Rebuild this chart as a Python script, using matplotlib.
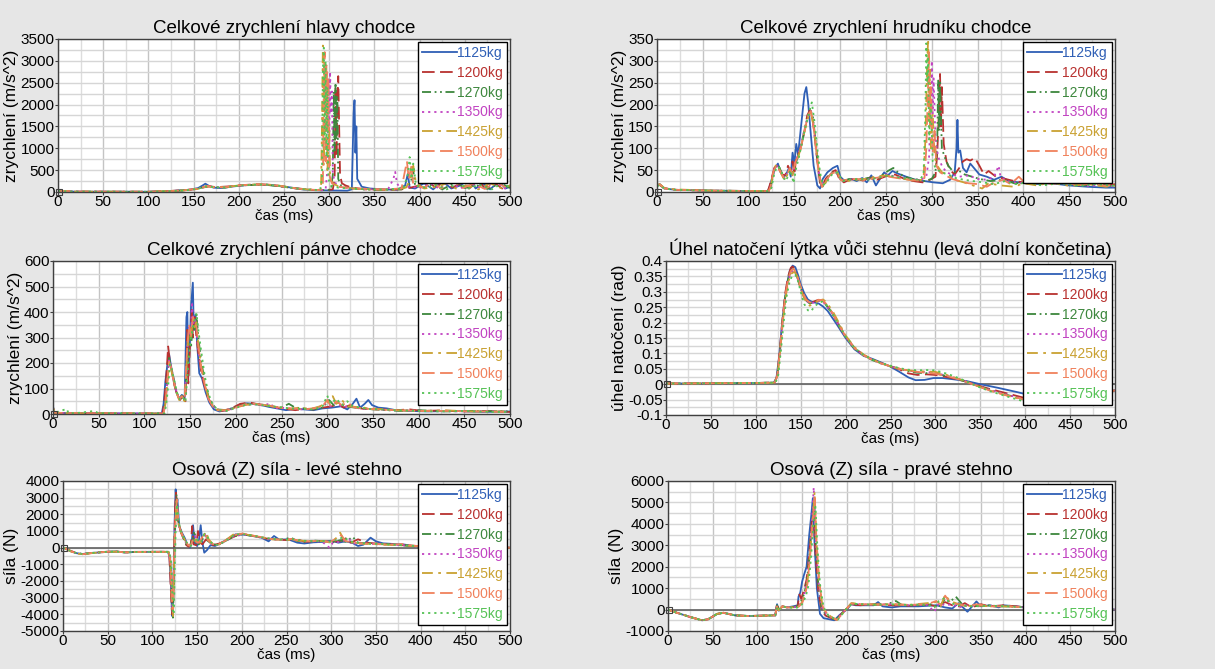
"""Crash simulation - pedestrian loads for several vehicle masses (6 panels)."""
import numpy as np
import matplotlib
matplotlib.use('Agg')
import matplotlib.pyplot as plt
from matplotlib.ticker import MultipleLocator

plt.rcParams['font.family'] = ['Liberation Sans', 'DejaVu Sans']
plt.rcParams['axes.unicode_minus'] = False

# ---------------------------------------------------------------- series setup
LABELS = ['1125kg', '1200kg', '1270kg', '1350kg', '1425kg', '1500kg', '1575kg']
COLORS = ['#2f5fb5', '#b8312f', '#3d873d', '#c143c1', '#c9a132', '#f0815c', '#55c255']
STYLES = ['-', (0, (7, 3)), (0, (5, 2, 1, 2, 1, 2)), (0, (1.2, 2.2)),
          (0, (6, 3, 1.5, 3)), (0, (7, 3)), (0, (1.2, 2.2))]

# ---------------------------------------------------------------- head (m/s^2)
head_1125 = [(0, 20), (20, 8), (100, 5), (125, 20), (135, 40), (145, 50), (155, 90), (160, 150), (163, 190),
             (167, 140), (172, 100), (180, 90), (195, 130), (210, 160), (225, 170), (240, 150), (255, 110),
             (270, 60), (285, 40), (300, 35), (320, 30), (325, 60), (327, 1800), (328, 2100), (329, 900),
             (330, 1500), (331, 300), (333, 230), (336, 120), (345, 80), (360, 60), (375, 50), (384, 150),
             (387, 420), (389, 100), (395, 80), (405, 200), (415, 60), (425, 250), (435, 80), (445, 150),
             (455, 300), (462, 80), (470, 200), (478, 60), (488, 250), (495, 80), (500, 120)]
head_1200 = [(0, 25), (20, 8), (100, 5), (125, 25), (140, 40), (155, 70), (162, 110), (168, 130), (175, 110),
             (190, 130), (205, 160), (220, 175), (235, 165), (250, 120), (265, 80), (280, 50), (295, 40),
             (304, 60), (306, 300), (307, 2400), (308, 800), (309, 2000), (310, 2650), (311, 1500), (312, 400),
             (314, 200), (318, 150), (325, 100), (340, 60), (360, 50), (380, 60), (390, 100), (400, 150),
             (410, 250), (418, 80), (428, 300), (436, 100), (446, 200), (455, 80), (465, 280), (472, 90),
             (482, 220), (492, 70), (500, 150)]
head_1270 = [(0, 20), (20, 6), (100, 5), (125, 20), (140, 35), (155, 80), (165, 130), (172, 110), (185, 100),
             (200, 150), (215, 160), (230, 165), (245, 130), (260, 90), (275, 60), (290, 40), (302, 50),
             (304, 400), (305, 2300), (306, 900), (307, 2500), (308, 1200), (309, 2200), (310, 300), (313, 150),
             (320, 100), (335, 60), (355, 50), (380, 60), (390, 200), (393, 500), (395, 150), (405, 100),
             (415, 180), (425, 60), (440, 220), (450, 90), (462, 160), (475, 70), (490, 200), (500, 90)]
head_1350 = [(0, 25), (20, 8), (100, 5), (125, 20), (140, 40), (155, 80), (165, 140), (172, 110), (185, 110),
             (200, 145), (215, 165), (230, 170), (245, 140), (260, 90), (275, 55), (290, 40), (296, 50),
             (298, 500), (299, 2600), (300, 1000), (301, 2750), (302, 1800), (303, 2300), (304, 400), (307, 200),
             (312, 120), (325, 80), (345, 60), (365, 60), (371, 300), (373, 460), (375, 200), (378, 100),
             (390, 120), (400, 90), (412, 200), (422, 70), (434, 250), (444, 80), (458, 180), (470, 70),
             (484, 240), (494, 80), (500, 120)]
head_1425 = [(0, 30), (20, 10), (100, 5), (125, 25), (140, 40), (155, 70), (165, 130), (172, 110), (185, 110),
             (200, 150), (215, 170), (230, 175), (245, 145), (260, 95), (275, 60), (288, 45), (291, 80),
             (292, 1500), (293, 3350), (294, 600), (295, 3000), (296, 1800), (297, 2800), (298, 500), (300, 1500),
             (301, 300), (304, 200), (310, 130), (320, 90), (340, 60), (370, 50), (385, 100), (390, 300),
             (393, 600), (396, 200), (405, 80), (420, 120), (432, 220), (440, 80), (452, 150), (465, 60),
             (478, 200), (490, 90), (500, 150)]
head_1500 = [(0, 25), (20, 8), (100, 5), (125, 20), (140, 40), (155, 80), (165, 140), (172, 110), (185, 110),
             (200, 150), (215, 170), (230, 170), (245, 140), (260, 90), (275, 55), (290, 45), (293, 100),
             (294, 2500), (295, 3200), (296, 700), (297, 2900), (298, 1500), (299, 2600), (300, 400), (303, 200),
             (310, 120), (330, 80), (360, 60), (380, 80), (384, 500), (386, 700), (388, 300), (391, 600),
             (393, 150), (405, 100), (414, 220), (424, 80), (436, 260), (448, 90), (460, 200), (472, 70),
             (486, 230), (496, 90), (500, 140)]
head_1575 = [(0, 25), (20, 8), (100, 5), (125, 20), (140, 35), (155, 75), (165, 135), (172, 110), (185, 105),
             (200, 145), (215, 165), (230, 170), (245, 140), (260, 90), (275, 55), (290, 45), (292, 300),
             (293, 2800), (294, 3300), (295, 1200), (296, 3000), (297, 800), (298, 2400), (299, 300), (302, 150),
             (310, 100), (330, 70), (360, 55), (382, 80), (387, 400), (389, 800), (391, 300), (393, 650),
             (396, 150), (408, 90), (418, 160), (430, 60), (442, 200), (454, 80), (466, 170), (480, 60),
             (492, 210), (500, 100)]

# ---------------------------------------------------------------- chest (m/s^2)
chest_1125 = [(0, 15), (3, 18), (8, 8), (20, 5), (60, 3), (121, 2), (123, 12), (126, 35), (129, 55), (132, 65),
              (135, 45), (138, 35), (141, 40), (144, 55), (146, 35), (148, 90), (150, 65), (152, 110), (154, 85),
              (156, 125), (158, 165), (161, 225), (163, 240), (165, 205), (168, 130), (171, 60), (175, 15),
              (178, 8), (181, 30), (186, 45), (192, 55), (197, 60), (200, 35), (205, 25), (212, 30), (218, 25),
              (224, 32), (229, 22), (234, 38), (239, 15), (244, 32), (248, 45), (252, 38), (257, 48), (263, 42),
              (272, 35), (282, 28), (292, 25), (302, 22), (312, 20), (320, 28), (325, 45), (327, 100), (328, 165),
              (329, 90), (331, 95), (334, 55), (338, 45), (342, 65), (346, 55), (352, 40), (360, 35), (368, 28),
              (376, 35), (384, 25), (395, 22), (410, 18), (430, 20), (450, 15), (470, 12), (490, 10), (500, 10)]
chest_1200 = [(0, 15), (3, 17), (8, 9), (20, 5), (60, 3), (121, 2), (123, 15), (125, 30), (128, 55), (131, 62),
              (134, 50), (137, 40), (140, 38), (143, 60), (146, 45), (148, 70), (150, 40), (152, 80), (155, 90),
              (158, 110), (161, 140), (164, 175), (167, 188), (169, 180), (172, 130), (175, 70), (178, 20),
              (180, 10), (184, 30), (190, 45), (195, 50), (199, 30), (204, 22), (210, 28), (218, 30), (225, 26),
              (232, 33), (240, 28), (250, 36), (260, 40), (270, 30), (280, 25), (290, 22), (298, 28), (304, 35),
              (306, 90), (308, 200), (309, 270), (310, 150), (311, 240), (313, 110), (316, 70), (320, 50),
              (325, 40), (330, 55), (334, 70), (338, 75), (342, 72), (347, 78), (352, 60), (357, 40), (362, 48),
              (370, 35), (380, 30), (390, 25), (400, 22), (415, 28), (430, 18), (445, 25), (460, 15), (475, 22),
              (490, 15), (500, 18)]
chest_1270 = [(0, 14), (3, 16), (8, 8), (20, 5), (60, 3), (122, 2), (124, 10), (127, 40), (130, 60), (133, 58),
              (136, 45), (139, 30), (142, 40), (145, 55), (148, 40), (150, 60), (153, 75), (156, 95), (159, 120),
              (162, 150), (165, 175), (168, 185), (170, 175), (173, 120), (176, 60), (179, 15), (182, 12),
              (187, 35), (193, 48), (198, 40), (203, 25), (210, 30), (220, 27), (230, 32), (240, 30), (252, 48),
              (258, 55), (263, 45), (270, 35), (282, 28), (292, 25), (300, 30), (304, 45), (306, 120), (307, 255),
              (308, 140), (309, 250), (311, 100), (314, 80), (318, 60), (324, 45), (330, 48), (336, 40), (344, 35),
              (352, 30), (364, 25), (378, 28), (390, 20), (405, 22), (425, 18), (445, 20), (465, 15), (485, 18),
              (500, 12)]
chest_1350 = [(0, 15), (3, 17), (8, 8), (20, 5), (60, 3), (122, 2), (124, 12), (127, 45), (130, 62), (133, 55),
              (136, 42), (139, 32), (142, 42), (145, 55), (148, 42), (151, 70), (154, 85), (157, 105), (160, 135),
              (163, 160), (166, 180), (168, 185), (171, 150), (174, 90), (177, 40), (180, 12), (184, 25),
              (190, 42), (196, 45), (201, 25), (208, 28), (218, 30), (228, 28), (238, 32), (250, 40), (262, 35),
              (275, 30), (288, 28), (294, 35), (297, 80), (299, 200), (300, 300), (301, 180), (302, 260),
              (304, 120), (307, 80), (311, 60), (316, 45), (322, 40), (330, 35), (340, 38), (350, 30), (360, 28),
              (368, 35), (373, 60), (375, 35), (382, 25), (395, 20), (410, 25), (430, 18), (450, 20), (470, 14),
              (490, 16), (500, 12)]
chest_1425 = [(0, 16), (3, 18), (8, 9), (20, 6), (60, 3), (122, 2), (124, 12), (127, 45), (130, 63), (133, 55),
              (136, 40), (139, 28), (142, 38), (145, 52), (148, 38), (151, 65), (154, 80), (157, 100), (160, 130),
              (163, 155), (166, 178), (168, 183), (171, 150), (174, 95), (177, 40), (180, 12), (184, 22),
              (190, 40), (196, 48), (201, 28), (208, 25), (218, 28), (228, 30), (238, 35), (250, 38), (262, 33),
              (275, 28), (285, 25), (291, 30), (293, 120), (295, 300), (296, 350), (297, 160), (298, 280),
              (299, 100), (301, 180), (303, 80), (306, 60), (311, 45), (318, 40), (325, 28), (335, 22), (345, 15),
              (355, 8), (362, 20), (375, 15), (390, 12), (400, 20), (415, 15), (430, 22), (450, 14), (470, 18),
              (490, 12), (500, 15)]
chest_1500 = [(0, 15), (3, 17), (8, 8), (20, 5), (60, 3), (122, 2), (124, 12), (127, 45), (130, 60), (133, 52),
              (136, 42), (139, 30), (142, 40), (145, 55), (148, 40), (151, 68), (154, 82), (157, 100), (160, 130),
              (163, 158), (166, 180), (168, 185), (171, 150), (174, 92), (177, 40), (180, 12), (184, 25),
              (190, 42), (196, 46), (201, 26), (208, 28), (218, 30), (228, 27), (238, 32), (250, 36), (262, 32),
              (275, 28), (286, 26), (292, 32), (294, 100), (296, 250), (297, 320), (298, 150), (299, 240),
              (301, 90), (303, 140), (305, 60), (309, 45), (315, 38), (322, 30), (330, 25), (340, 20), (350, 18),
              (360, 12), (368, 22), (378, 28), (386, 18), (395, 35), (402, 20), (415, 28), (430, 18), (445, 24),
              (460, 15), (475, 20), (490, 14), (500, 18)]
chest_1575 = [(0, 14), (3, 16), (8, 8), (20, 5), (60, 3), (123, 2), (125, 10), (128, 42), (131, 58), (134, 55),
              (137, 40), (140, 25), (143, 35), (146, 50), (149, 20), (152, 55), (155, 80), (158, 110), (161, 140),
              (164, 165), (167, 190), (169, 205), (172, 160), (175, 100), (178, 45), (181, 15), (185, 22),
              (191, 40), (197, 45), (202, 25), (210, 28), (220, 30), (230, 28), (240, 32), (252, 38), (262, 34),
              (275, 30), (287, 28), (291, 40), (293, 180), (294, 340), (295, 250), (296, 310), (297, 120),
              (299, 200), (301, 70), (304, 55), (310, 45), (318, 40), (326, 32), (335, 28), (345, 25), (356, 22),
              (368, 18), (380, 25), (392, 18), (405, 22), (420, 15), (440, 20), (460, 14), (480, 18), (500, 14)]

# ---------------------------------------------------------------- pelvis (m/s^2)
pelvis_1125 = [(0, 30), (1.5, 5), (20, 3), (100, 2), (119, 2), (121, 40), (123, 130), (125, 190), (127, 235),
               (129, 190), (132, 130), (135, 85), (138, 60), (141, 75), (144, 60), (146, 380), (147, 400),
               (148, 150), (150, 300), (151, 420), (153, 515), (154, 330), (156, 390), (158, 260), (160, 160),
               (163, 140), (167, 85), (171, 45), (176, 18), (182, 10), (190, 15), (198, 25), (205, 38), (212, 42),
               (220, 40), (228, 35), (236, 28), (245, 22), (255, 15), (265, 20), (275, 18), (285, 15), (295, 22),
               (305, 25), (315, 30), (322, 18), (328, 40), (332, 60), (336, 25), (341, 40), (345, 55), (349, 35),
               (356, 25), (365, 22), (375, 15), (390, 12), (410, 10), (440, 12), (470, 8), (500, 10)]
pelvis_1200 = [(0, 25), (1.5, 5), (20, 3), (100, 2), (120, 2), (122, 60), (124, 150), (126, 265), (128, 200),
               (130, 170), (133, 110), (136, 75), (139, 55), (142, 70), (145, 50), (147, 330), (148, 120),
               (150, 280), (152, 420), (153, 300), (155, 380), (157, 300), (159, 240), (162, 170), (165, 120),
               (169, 70), (173, 40), (178, 20), (185, 12), (195, 22), (205, 40), (215, 45), (225, 38), (235, 35),
               (245, 25), (255, 20), (265, 15), (275, 20), (285, 18), (295, 25), (305, 30), (312, 40), (318, 25),
               (325, 35), (332, 25), (340, 20), (350, 22), (360, 18), (375, 15), (390, 18), (405, 12), (425, 14),
               (450, 10), (475, 12), (500, 8)]
pelvis_1270 = [(0, 20), (2, 5), (20, 3), (100, 2), (121, 2), (123, 50), (125, 140), (127, 220), (129, 190),
               (132, 140), (135, 90), (138, 60), (141, 72), (144, 55), (147, 200), (149, 310), (151, 260),
               (153, 360), (155, 330), (157, 390), (159, 300), (162, 210), (166, 130), (170, 70), (175, 35),
               (180, 18), (190, 15), (200, 28), (210, 38), (220, 40), (230, 35), (240, 30), (250, 25), (258, 40),
               (265, 25), (275, 22), (285, 18), (295, 25), (302, 55), (307, 35), (313, 45), (320, 30), (330, 25),
               (340, 22), (350, 18), (365, 15), (380, 12), (400, 15), (430, 10), (460, 12), (500, 10)]
pelvis_1350 = [(0, 22), (2, 5), (20, 3), (100, 2), (121, 2), (123, 45), (125, 130), (127, 210), (129, 185),
               (132, 135), (135, 88), (138, 58), (141, 70), (144, 52), (147, 260), (149, 340), (151, 300),
               (152, 440), (154, 350), (156, 370), (158, 280), (161, 200), (165, 130), (169, 75), (174, 35),
               (180, 15), (190, 12), (200, 25), (210, 35), (220, 38), (230, 33), (238, 42), (242, 22), (250, 25),
               (262, 20), (275, 18), (288, 22), (298, 40), (304, 30), (310, 45), (316, 28), (325, 30), (335, 22),
               (345, 20), (358, 18), (372, 15), (390, 14), (410, 12), (440, 10), (470, 12), (500, 8)]
pelvis_1425 = [(0, 25), (2, 5), (20, 3), (100, 2), (121, 2), (123, 40), (125, 120), (127, 200), (129, 180),
               (132, 130), (135, 85), (138, 55), (141, 68), (144, 50), (147, 250), (149, 330), (151, 300),
               (153, 370), (155, 340), (157, 360), (159, 270), (162, 190), (166, 120), (170, 65), (175, 30),
               (180, 15), (190, 15), (200, 25), (210, 35), (220, 40), (230, 36), (240, 30), (250, 25), (260, 20),
               (270, 25), (282, 20), (292, 30), (300, 45), (306, 70), (310, 40), (316, 55), (322, 30), (330, 28),
               (340, 25), (350, 20), (365, 18), (380, 14), (400, 12), (430, 14), (460, 10), (500, 10)]
pelvis_1500 = [(0, 22), (2, 5), (20, 3), (100, 2), (121, 2), (123, 45), (125, 125), (127, 205), (129, 185),
               (132, 130), (135, 85), (138, 58), (141, 70), (144, 55), (147, 270), (149, 350), (151, 310),
               (153, 380), (155, 360), (157, 340), (159, 270), (162, 185), (166, 115), (170, 60), (175, 28),
               (180, 15), (190, 14), (200, 25), (210, 38), (220, 40), (230, 35), (240, 30), (250, 24), (262, 22),
               (275, 18), (288, 24), (296, 35), (300, 55), (304, 30), (310, 50), (316, 35), (322, 45), (330, 25),
               (340, 22), (352, 18), (368, 16), (385, 14), (405, 12), (435, 12), (465, 10), (500, 8)]
pelvis_1575 = [(0, 20), (2, 5), (15, 20), (17, 3), (30, 5), (45, 12), (50, 3), (100, 2), (122, 2), (124, 40),
               (126, 110), (128, 195), (130, 175), (133, 125), (136, 80), (139, 55), (142, 65), (145, 48),
               (148, 200), (151, 300), (153, 340), (155, 370), (157, 395), (159, 330), (162, 250), (166, 150),
               (170, 80), (175, 35), (181, 15), (190, 12), (200, 24), (210, 35), (220, 38), (230, 34), (240, 30),
               (250, 26), (260, 22), (272, 20), (285, 18), (295, 30), (300, 72), (304, 40), (310, 60), (316, 35),
               (322, 50), (328, 30), (336, 25), (346, 20), (360, 18), (375, 15), (395, 12), (420, 10), (450, 12),
               (480, 8), (500, 8)]

# ---------------------------------------------------------------- knee angle (rad)
knee_1125 = [(0, 0.002), (50, 0.003), (100, 0.004), (120, 0.005), (123, 0.02), (126, 0.09), (129, 0.19),
             (132, 0.27), (135, 0.33), (138, 0.37), (141, 0.385), (144, 0.38), (147, 0.355), (150, 0.325),
             (154, 0.295), (158, 0.275), (162, 0.268), (166, 0.265), (170, 0.262), (175, 0.252), (180, 0.238),
             (190, 0.195), (200, 0.15), (210, 0.113), (220, 0.092), (230, 0.082), (240, 0.07), (250, 0.057),
             (260, 0.04), (270, 0.022), (278, 0.013), (288, 0.014), (298, 0.02), (308, 0.02), (320, 0.016),
             (335, 0.01), (350, 0.0), (370, -0.012), (390, -0.025), (400, -0.032), (430, -0.045),
             (460, -0.04), (500, -0.02)]
knee_1200 = [(0, 0.002), (50, 0.003), (100, 0.004), (121, 0.005), (124, 0.03), (127, 0.12), (130, 0.22),
             (133, 0.3), (136, 0.35), (139, 0.378), (141, 0.382), (144, 0.37), (147, 0.34), (150, 0.31),
             (154, 0.285), (158, 0.268), (162, 0.265), (166, 0.27), (170, 0.274), (174, 0.272), (178, 0.26),
             (185, 0.232), (192, 0.195), (200, 0.155), (210, 0.118), (220, 0.095), (230, 0.08), (240, 0.068),
             (250, 0.058), (260, 0.048), (270, 0.035), (280, 0.03), (290, 0.032), (300, 0.03), (315, 0.022),
             (330, 0.012), (345, -0.002), (360, -0.015), (380, -0.03), (400, -0.045), (430, -0.055),
             (460, -0.045), (500, -0.02)]
knee_1270 = [(0, 0.002), (50, 0.003), (100, 0.004), (121, 0.005), (124, 0.03), (127, 0.11), (130, 0.21),
             (133, 0.29), (136, 0.34), (139, 0.368), (142, 0.375), (145, 0.36), (148, 0.33), (152, 0.295),
             (156, 0.272), (160, 0.262), (165, 0.266), (170, 0.272), (174, 0.27), (178, 0.258), (185, 0.23),
             (192, 0.192), (200, 0.152), (210, 0.115), (220, 0.093), (230, 0.078), (240, 0.067), (250, 0.058),
             (260, 0.05), (270, 0.042), (280, 0.037), (290, 0.036), (300, 0.035), (315, 0.025), (330, 0.012),
             (345, -0.003), (360, -0.018), (380, -0.035), (400, -0.05), (430, -0.057), (460, -0.045),
             (500, -0.02)]
knee_1350 = [(0, 0.002), (50, 0.003), (100, 0.004), (121, 0.005), (124, 0.025), (127, 0.1), (130, 0.2),
             (133, 0.28), (136, 0.335), (139, 0.362), (142, 0.37), (145, 0.358), (148, 0.33), (152, 0.295),
             (156, 0.272), (160, 0.262), (165, 0.265), (170, 0.27), (174, 0.27), (178, 0.258), (185, 0.23),
             (192, 0.193), (200, 0.153), (210, 0.116), (220, 0.094), (230, 0.079), (240, 0.067), (250, 0.058),
             (260, 0.05), (270, 0.044), (280, 0.04), (290, 0.04), (300, 0.036), (315, 0.026), (330, 0.013),
             (345, -0.003), (360, -0.018), (380, -0.034), (400, -0.05), (430, -0.056), (460, -0.045),
             (500, -0.02)]
knee_1425 = [(0, 0.002), (50, 0.003), (100, 0.004), (121, 0.005), (124, 0.025), (127, 0.1), (130, 0.2),
             (133, 0.28), (136, 0.33), (139, 0.358), (143, 0.365), (146, 0.352), (149, 0.32), (153, 0.285),
             (157, 0.262), (160, 0.255), (165, 0.262), (170, 0.272), (175, 0.275), (179, 0.265), (186, 0.235),
             (193, 0.197), (200, 0.158), (210, 0.12), (220, 0.096), (230, 0.08), (240, 0.068), (250, 0.058),
             (260, 0.05), (270, 0.045), (280, 0.042), (290, 0.041), (300, 0.04), (315, 0.028), (330, 0.013),
             (345, -0.004), (360, -0.02), (380, -0.037), (400, -0.052), (430, -0.058), (460, -0.045),
             (500, -0.02)]
knee_1500 = [(0, 0.002), (50, 0.003), (100, 0.004), (121, 0.005), (124, 0.028), (127, 0.11), (130, 0.21),
             (133, 0.29), (136, 0.34), (139, 0.368), (142, 0.375), (145, 0.362), (148, 0.335), (152, 0.3),
             (156, 0.275), (160, 0.265), (165, 0.268), (170, 0.274), (174, 0.273), (178, 0.262), (185, 0.233),
             (192, 0.195), (200, 0.155), (210, 0.117), (220, 0.094), (230, 0.079), (240, 0.067), (250, 0.058),
             (260, 0.05), (270, 0.044), (280, 0.04), (290, 0.037), (300, 0.034), (315, 0.025), (330, 0.012),
             (345, -0.004), (360, -0.02), (380, -0.037), (400, -0.05), (430, -0.055), (460, -0.045),
             (500, -0.02)]
knee_1575 = [(0, 0.002), (50, 0.003), (100, 0.004), (122, 0.005), (125, 0.03), (128, 0.11), (131, 0.2),
             (134, 0.28), (137, 0.325), (140, 0.35), (144, 0.355), (147, 0.335), (150, 0.3), (154, 0.26),
             (158, 0.24), (161, 0.236), (165, 0.25), (170, 0.265), (174, 0.268), (178, 0.26), (185, 0.232),
             (192, 0.195), (200, 0.155), (210, 0.118), (220, 0.095), (230, 0.08), (240, 0.068), (250, 0.06),
             (260, 0.052), (270, 0.047), (280, 0.045), (290, 0.046), (300, 0.045), (315, 0.032), (330, 0.015),
             (345, -0.005), (360, -0.022), (380, -0.04), (400, -0.057), (430, -0.06), (460, -0.045),
             (500, -0.02)]

# ---------------------------------------------------------------- left femur force (N)
lfemur_1125 = [(0, 0), (3, -60), (8, -200), (15, -330), (22, -380), (30, -320), (40, -290), (50, -250),
               (60, -230), (70, -290), (80, -260), (100, -250), (117, -250), (119, -450), (121, -2600),
               (122, -4100), (123, -3400), (124, -600), (125, 1800), (126, 3500), (127, 2600), (128, 2900),
               (130, 1300), (133, 900), (136, 600), (139, 200), (142, 0), (144, 300), (145.5, 1350), (147, 300),
               (150, 100), (152, 400), (154, 1350), (156, 300), (158, -300), (161, -150), (165, 150), (170, 100),
               (176, 250), (185, 550), (193, 800), (203, 780), (213, 700), (222, 600), (230, 380), (236, 700),
               (242, 480), (252, 500), (262, 300), (270, 250), (280, 320), (292, 350), (300, 420), (308, 300),
               (316, 380), (324, 280), (330, 100), (336, 180), (344, 600), (350, 380), (358, 260), (370, 220),
               (380, 200), (390, 120), (400, 80), (450, 30), (500, 0)]
lfemur_1200 = [(0, 0), (3, -50), (8, -180), (15, -320), (22, -390), (30, -330), (40, -280), (50, -240),
               (60, -240), (70, -280), (80, -250), (100, -250), (117, -250), (119, -500), (121, -3000),
               (122, -4000), (123.5, -2500), (124.5, 300), (125.5, 2500), (126.5, 3300), (127.5, 2000),
               (129, 1500), (132, 900), (135, 500), (138, 150), (141, 50), (143, 200), (144.5, 1300), (146, 200),
               (149, 150), (151, 1000), (153, 300), (156, 200), (160, 500), (164, 300), (168, 150), (175, 250),
               (185, 500), (195, 750), (205, 780), (215, 680), (225, 560), (240, 500), (250, 450), (260, 550),
               (270, 350), (280, 380), (290, 400), (300, 350), (310, 400), (318, 600), (322, 300), (330, 500),
               (340, 300), (350, 250), (365, 200), (380, 150), (395, 80), (450, 30), (500, 0)]
lfemur_1270 = [(0, 0), (3, -50), (8, -190), (15, -330), (22, -380), (30, -330), (40, -290), (50, -245),
               (60, -235), (70, -285), (80, -255), (100, -250), (118, -250), (120, -600), (122, -3200),
               (123, -4200), (124, -2200), (125, 500), (126, 2200), (127, 3200), (128, 1800), (130, 1300),
               (133, 800), (136, 400), (139, 100), (142, 150), (145, 500), (147, 1000), (149, 300), (152, 200),
               (156, 500), (159, 900), (162, 400), (166, 250), (172, 150), (180, 350), (190, 650), (200, 800),
               (210, 720), (220, 620), (232, 520), (245, 480), (255, 600), (262, 400), (272, 350), (282, 420),
               (292, 380), (300, 300), (310, 450), (316, 350), (324, 650), (330, 300), (340, 250), (355, 220),
               (370, 180), (385, 120), (400, 80), (450, 30), (500, 0)]
lfemur_1350 = [(0, 0), (3, -55), (8, -200), (15, -340), (22, -390), (30, -330), (40, -285), (50, -245),
               (60, -240), (70, -285), (80, -255), (100, -250), (118, -250), (120, -700), (122, -3500),
               (123, -4000), (124, -1800), (125, 600), (126.5, 2500), (127.5, 3000), (128.5, 1700), (130, 1200),
               (133, 800), (136, 450), (139, 150), (142, 100), (145, 400), (148, 700), (150, 300), (153, 250),
               (157, 600), (160, 800), (163, 350), (167, 200), (173, 150), (182, 400), (192, 700), (202, 780),
               (212, 700), (222, 600), (234, 500), (246, 450), (258, 480), (268, 380), (280, 400), (290, 350),
               (298, 0), (302, 300), (310, 350), (320, 500), (326, 250), (335, 250), (350, 220), (365, 180),
               (380, 150), (395, 80), (450, 30), (500, 0)]
lfemur_1425 = [(0, 0), (3, -60), (8, -210), (15, -350), (22, -400), (30, -340), (40, -290), (50, -250),
               (60, -240), (70, -290), (80, -260), (100, -250), (118, -250), (120, -800), (122, -3600),
               (123, -4100), (124, -1500), (125, 800), (127, 2800), (128, 1800), (130, 1200), (133, 800),
               (136, 500), (139, 200), (142, 100), (145, 300), (148, 500), (151, 350), (154, 300), (157, 700),
               (160, 950), (163, 500), (167, 250), (173, 150), (182, 450), (192, 850), (202, 820), (212, 720),
               (222, 620), (234, 500), (246, 480), (256, 450), (266, 420), (278, 380), (290, 400), (300, 300),
               (306, 600), (310, 900), (314, 500), (320, 350), (330, 250), (345, 220), (360, 180), (375, 150),
               (390, 100), (400, 80), (450, 30), (500, 0)]
lfemur_1500 = [(0, 0), (3, -55), (8, -200), (15, -340), (22, -395), (30, -335), (40, -285), (50, -245),
               (60, -240), (70, -285), (80, -255), (100, -250), (118, -250), (120, -700), (122, -3300),
               (123, -3900), (124, -1600), (125, 700), (126.5, 2400), (127.5, 2900), (129, 1600), (131, 1100),
               (134, 700), (137, 400), (140, 150), (143, 150), (146, 600), (149, 350), (152, 300), (156, 650),
               (159, 850), (162, 450), (166, 250), (172, 150), (181, 400), (191, 750), (201, 850), (211, 740),
               (221, 640), (233, 520), (245, 470), (255, 520), (265, 420), (276, 380), (288, 420), (298, 330),
               (306, 550), (311, 750), (316, 400), (324, 300), (335, 250), (350, 220), (365, 180), (380, 220),
               (388, 150), (400, 80), (450, 30), (500, 0)]
lfemur_1575 = [(0, 0), (3, -50), (8, -190), (15, -330), (22, -385), (30, -330), (40, -285), (50, -245),
               (60, -240), (70, -285), (80, -255), (100, -250), (119, -250), (121, -900), (123, -3800),
               (124, -4000), (125, -1300), (126, 1000), (127.5, 2600), (129, 1800), (131, 1100), (134, 700),
               (137, 400), (140, 200), (143, 100), (146, 350), (149, 600), (152, 300), (155, 400), (158, 800),
               (161, 700), (164, 400), (168, 200), (174, 150), (183, 450), (193, 800), (203, 800), (213, 720),
               (223, 620), (235, 520), (247, 470), (257, 500), (268, 420), (280, 390), (292, 400), (300, 350),
               (308, 500), (314, 650), (320, 400), (328, 300), (340, 250), (355, 220), (370, 180), (385, 130),
               (400, 80), (450, 30), (500, 0)]

# ---------------------------------------------------------------- right femur force (N)
rfemur_1125 = [(0, 0), (10, -150), (25, -350), (38, -500), (45, -450), (55, -200), (62, -150), (75, -270),
               (90, -300), (110, -280), (120, -270), (122, 250), (124, -50), (128, 150), (133, 100), (140, 150),
               (145, 200), (146, 600), (148, 800), (150, 1300), (152, 1600), (155, 2000), (158, 3500),
               (160.5, 4500), (162, 5200), (164, 3000), (166.5, 1000), (170, -200), (174, -400), (180, -450),
               (186, -500), (192, -250), (200, 0), (205, 250), (210, 200), (220, 200), (230, 200), (235, 350),
               (240, 150), (250, 100), (260, 150), (280, 150), (300, 200), (310, 100), (318, 50), (325, 300),
               (335, -100), (345, 380), (350, 150), (360, 200), (370, 100), (375, 200), (390, 150), (400, 100),
               (450, 50), (500, 0)]
rfemur_1200 = [(0, 0), (10, -150), (25, -350), (38, -500), (45, -450), (55, -200), (62, -150), (75, -270),
               (90, -300), (110, -280), (120, -270), (122, 300), (124, -30), (128, 150), (133, 100), (140, 120),
               (145, 150), (147, 700), (149, 500), (152, 900), (155, 1400), (158, 2600), (161, 4200),
               (163, 4600), (165, 2600), (168, 900), (172, -100), (177, -300), (183, -400), (188, -480),
               (194, -200), (200, 50), (205, 250), (215, 200), (230, 250), (250, 200), (270, 180), (290, 250),
               (300, 150), (310, 350), (318, 200), (325, 150), (332, 300), (340, 100), (350, 250), (360, 150),
               (375, 200), (390, 150), (400, 100), (450, 50), (500, 0)]
rfemur_1270 = [(0, 0), (10, -150), (25, -350), (38, -500), (45, -450), (55, -200), (62, -150), (75, -270),
               (90, -300), (110, -280), (120, -270), (122, 200), (124, -30), (128, 150), (133, 100), (140, 120),
               (146, 150), (149, 400), (152, 700), (155, 1200), (158, 2400), (161, 4000), (163.5, 5000),
               (165.5, 3000), (168, 1200), (172, 0), (177, -250), (183, -400), (188, -490), (194, -200),
               (200, 50), (205, 280), (215, 250), (230, 220), (245, 250), (255, 400), (262, 200), (280, 200),
               (295, 250), (303, 100), (310, 500), (315, 350), (322, 600), (330, 200), (340, 150), (355, 200),
               (375, 150), (390, 120), (400, 100), (450, 50), (500, 0)]
rfemur_1350 = [(0, 0), (10, -150), (25, -350), (38, -500), (45, -450), (55, -200), (62, -150), (75, -270),
               (90, -300), (110, -280), (120, -270), (122, 150), (124, -30), (128, 150), (133, 100), (140, 100),
               (146, 150), (150, 400), (153, 800), (156, 1400), (159, 2800), (161.5, 4500), (163, 5700),
               (165, 3500), (168, 1400), (172, 100), (177, -200), (183, -380), (188, -480), (194, -200),
               (200, 50), (205, 280), (215, 250), (230, 230), (250, 250), (270, 200), (290, 220), (298, -100),
               (303, 300), (310, 200), (318, 250), (325, 100), (335, 200), (345, 150), (360, 180), (380, 150),
               (400, 100), (450, 50), (500, 0)]
rfemur_1425 = [(0, 0), (10, -150), (25, -350), (38, -500), (45, -450), (55, -200), (62, -150), (75, -270),
               (90, -300), (110, -280), (120, -270), (122, 150), (124, -30), (128, 150), (133, 100), (140, 100),
               (146, 120), (150, 350), (153, 700), (156, 1300), (159, 2600), (162, 4300), (164, 5500),
               (166, 3200), (169, 1300), (173, 100), (178, -200), (184, -380), (189, -480), (195, -200),
               (200, 50), (205, 300), (215, 260), (230, 240), (250, 250), (270, 220), (290, 300), (300, 350),
               (305, 150), (310, 700), (315, 400), (322, 300), (332, 150), (345, 200), (360, 150), (380, 150),
               (400, 100), (450, 50), (500, 0)]
rfemur_1500 = [(0, 0), (10, -150), (25, -350), (38, -500), (45, -450), (55, -200), (62, -150), (75, -270),
               (90, -300), (110, -280), (120, -270), (122, 150), (124, -30), (128, 150), (133, 100), (140, 100),
               (146, 130), (150, 300), (153, 650), (156, 1200), (159, 2500), (162, 4200), (164, 5200),
               (166, 3300), (169, 1300), (173, 150), (178, -200), (184, -380), (189, -480), (195, -200),
               (200, 50), (205, 280), (215, 250), (230, 230), (250, 240), (270, 220), (290, 250), (300, 400),
               (306, 200), (310, 650), (316, 300), (325, 250), (335, 150), (345, 250), (360, 150), (380, 150),
               (400, 100), (450, 50), (500, 0)]
rfemur_1575 = [(0, 0), (10, -150), (25, -350), (38, -500), (45, -450), (55, -200), (62, -150), (75, -270),
               (90, -300), (110, -280), (120, -270), (122, 100), (124, -30), (128, 150), (133, 100), (140, 80),
               (146, 100), (150, 250), (154, 600), (157, 1100), (160, 2400), (162.5, 4000), (165, 4800),
               (167, 3000), (170, 1200), (174, 100), (179, -250), (185, -400), (190, -470), (196, -150),
               (201, 100), (206, 280), (215, 250), (230, 230), (250, 240), (270, 220), (290, 240), (298, 100),
               (303, 400), (310, 550), (316, 300), (325, 200), (340, 150), (360, 180), (380, 150), (400, 100),
               (450, 50), (500, 0)]

HEAD = [head_1125, head_1200, head_1270, head_1350, head_1425, head_1500, head_1575]
CHEST = [chest_1125, chest_1200, chest_1270, chest_1350, chest_1425, chest_1500, chest_1575]
PELVIS = [pelvis_1125, pelvis_1200, pelvis_1270, pelvis_1350, pelvis_1425, pelvis_1500, pelvis_1575]
KNEE = [knee_1125, knee_1200, knee_1270, knee_1350, knee_1425, knee_1500, knee_1575]
LFEMUR = [lfemur_1125, lfemur_1200, lfemur_1270, lfemur_1350, lfemur_1425, lfemur_1500, lfemur_1575]
RFEMUR = [rfemur_1125, rfemur_1200, rfemur_1270, rfemur_1350, rfemur_1425, rfemur_1500, rfemur_1575]

W, H = 1215, 669


def axes_px(fig, left, right, top, bottom):
    """Place axes by pixel edges of the reference picture."""
    return fig.add_axes([left / W, 1 - bottom / H, (right - left) / W, (bottom - top) / H])


def draw_panel(ax, series, title, ylabel, ylim, ystep, zero_line=False):
    for label, pts, color, ls in zip(LABELS, series, COLORS, STYLES):
        t, y = zip(*pts)
        ax.plot(t, y, color=color, ls=ls, lw=1.3, label=label)

    ax.set_xlim(0, 500)
    ax.set_ylim(*ylim)
    ax.set_facecolor('white')

    xt = np.arange(0, 501, 50)
    ax.set_xticks(xt)
    ax.set_xticklabels([str(v) for v in xt])
    yt = np.round(np.arange(ylim[0], ylim[1] + ystep / 2, ystep), 4)
    ax.set_yticks(yt)
    ax.set_yticklabels([f'{v:g}' for v in yt])
    ax.xaxis.set_minor_locator(MultipleLocator(25))
    ax.yaxis.set_minor_locator(MultipleLocator(ystep / 2))
    ax.tick_params(which='major', length=2.5, color='#404040', labelsize=11, pad=0)
    ax.tick_params(which='minor', length=0)

    ax.grid(True, which='major', axis='x', color='#c4c4c4', lw=1.0)
    ax.grid(True, which='minor', axis='x', color='#dddddd', lw=1.0)
    ax.grid(True, which='both', axis='y', color='#d6d6d6', lw=1.0)
    ax.set_axisbelow(True)
    for sp in ax.spines.values():
        sp.set_color('#404040')
        sp.set_linewidth(1.0)

    if zero_line:
        ax.axhline(0, color='#606060', lw=1.2, zorder=1.5)
    # little square marker at the origin
    ax.plot([1.5], [0], marker='s', ms=4.5, mfc='none', mec='#404040', mew=0.8, clip_on=False)

    ax.set_title(title, fontsize=13.5, pad=4)
    ax.set_xlabel('čas (ms)', fontsize=11, labelpad=0)
    ax.set_ylabel(ylabel, fontsize=12.5, labelpad=1)

    leg = ax.legend(loc='upper right', fontsize=10, frameon=True, fancybox=False, framealpha=1,
                    edgecolor='black', borderaxespad=0.2, borderpad=0.3, labelspacing=0.42,
                    handlelength=2.5, handletextpad=0.05)
    leg.get_frame().set_linewidth(1.0)
    for txt, c in zip(leg.get_texts(), COLORS):
        txt.set_color(c)


fig = plt.figure(figsize=(W / 100, H / 100), dpi=100)
fig.patch.set_facecolor('#e6e6e6')

ax1 = axes_px(fig, 58, 510, 39, 192)
ax2 = axes_px(fig, 657, 1115, 39, 192)
ax3 = axes_px(fig, 53, 510, 261, 414)
ax4 = axes_px(fig, 666, 1115, 261, 415)
ax5 = axes_px(fig, 63, 510, 481, 631)
ax6 = axes_px(fig, 668, 1115, 481, 631)

draw_panel(ax1, HEAD, 'Celkové zrychlení hlavy chodce', 'zrychlení (m/s^2)', (0, 3500), 500)
draw_panel(ax2, CHEST, 'Celkové zrychlení hrudníku chodce', 'zrychlení (m/s^2)', (0, 350), 50)
draw_panel(ax3, PELVIS, 'Celkové zrychlení pánve chodce', 'zrychlení (m/s^2)', (0, 600), 100)
draw_panel(ax4, KNEE, 'Úhel natočení lýtka vůči stehnu (levá dolní končetina)', 'úhel natočení (rad)',
           (-0.1, 0.4), 0.05, zero_line=True)
draw_panel(ax5, LFEMUR, 'Osová (Z) síla - levé stehno', 'síla (N)', (-5000, 4000), 1000, zero_line=True)
draw_panel(ax6, RFEMUR, 'Osová (Z) síla - pravé stehno', 'síla (N)', (-1000, 6000), 1000, zero_line=True)

fig.savefig('out.png', dpi=100, facecolor=fig.get_facecolor())
